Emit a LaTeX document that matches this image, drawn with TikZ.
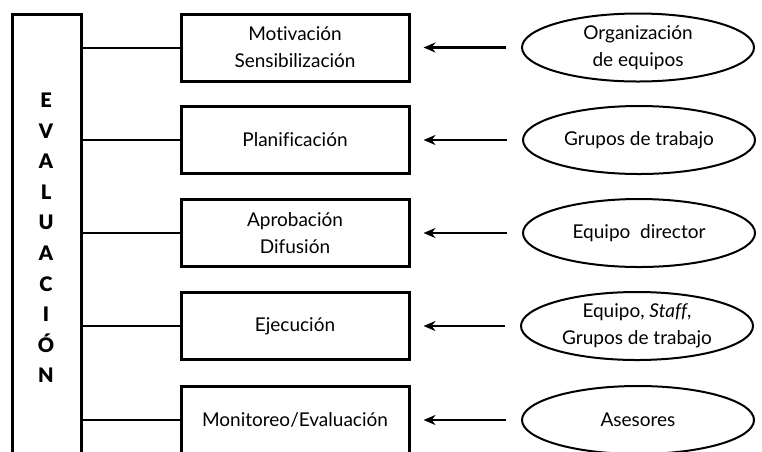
\documentclass[tikz,border=0pt]{standalone}
\usepackage{fontspec}
\setmainfont{Lato}[Ligatures={NoCommon},BoldFont={Lato Black}]
\usetikzlibrary{shapes.geometric,arrows.meta}
\begin{document}
\begin{tikzpicture}[x=1pt,y=-1pt,
  stagebox/.style={draw,line width=3pt,minimum width=228pt,minimum height=67pt,inner sep=0pt,align=center,font=\fontsize{19}{27}\selectfont},
  actor/.style={draw,ellipse,line width=2pt,minimum width=232pt,minimum height=68pt,inner sep=0pt,align=center,font=\fontsize{19}{27}\selectfont},
  link/.style={line width=2pt},
  arr/.style={line width=2.5pt,-{Stealth[length=12pt,width=10pt]},shorten <=15pt,shorten >=13pt}]
\useasboundingbox (0,0) rectangle (762,451);
\fill[white] (0,0) rectangle (762,451);
% left bar (open at the bottom, cut by page)
\node[draw,line width=3pt,minimum width=69pt,minimum height=500pt,anchor=north west,inner sep=0pt] (bar) at (11,13) {};
\node[font=\fontsize{20}{30.6}\selectfont\bfseries,align=center,inner sep=0pt] (word) at (46,238)
  {E\\V\\A\\L\\U\\A\\C\\I\\Ó\\N};
% stage boxes
\node[stagebox] (b1) at (295,47.5) {Motivación\\Sensibilización};
\node[stagebox] (b2) at (295,140) {Planificación};
\node[stagebox] (b3) at (295,233) {Aprobación\\Difusión};
\node[stagebox] (b4) at (295,326) {Ejecución};
\node[stagebox] (b5) at (295,420) {Monitoreo/Evaluación};
% actors
\node[actor] (e1) at (638,47.5) {Organización\\de equipos};
\node[actor] (e2) at (639,140) {Grupos de trabajo};
\node[actor] (e3) at (639,233) {Equipo\ \ director};
\node[actor] (e4) at (637,326) {Equipo, \textit{Staff},\\Grupos de trabajo};
\node[actor] (e5) at (638,420) {Asesores};
% links from bar
\foreach \b in {b1,b2,b3,b4,b5}
  \draw[link] (bar.east |- \b.west) -- (\b.west);
% arrows
\foreach \e/\b in {e1/b1,e2/b2,e3/b3,e4/b4,e5/b5}
  \draw[arr] (\e.west) -- (\b.east);
\end{tikzpicture}
\end{document}
